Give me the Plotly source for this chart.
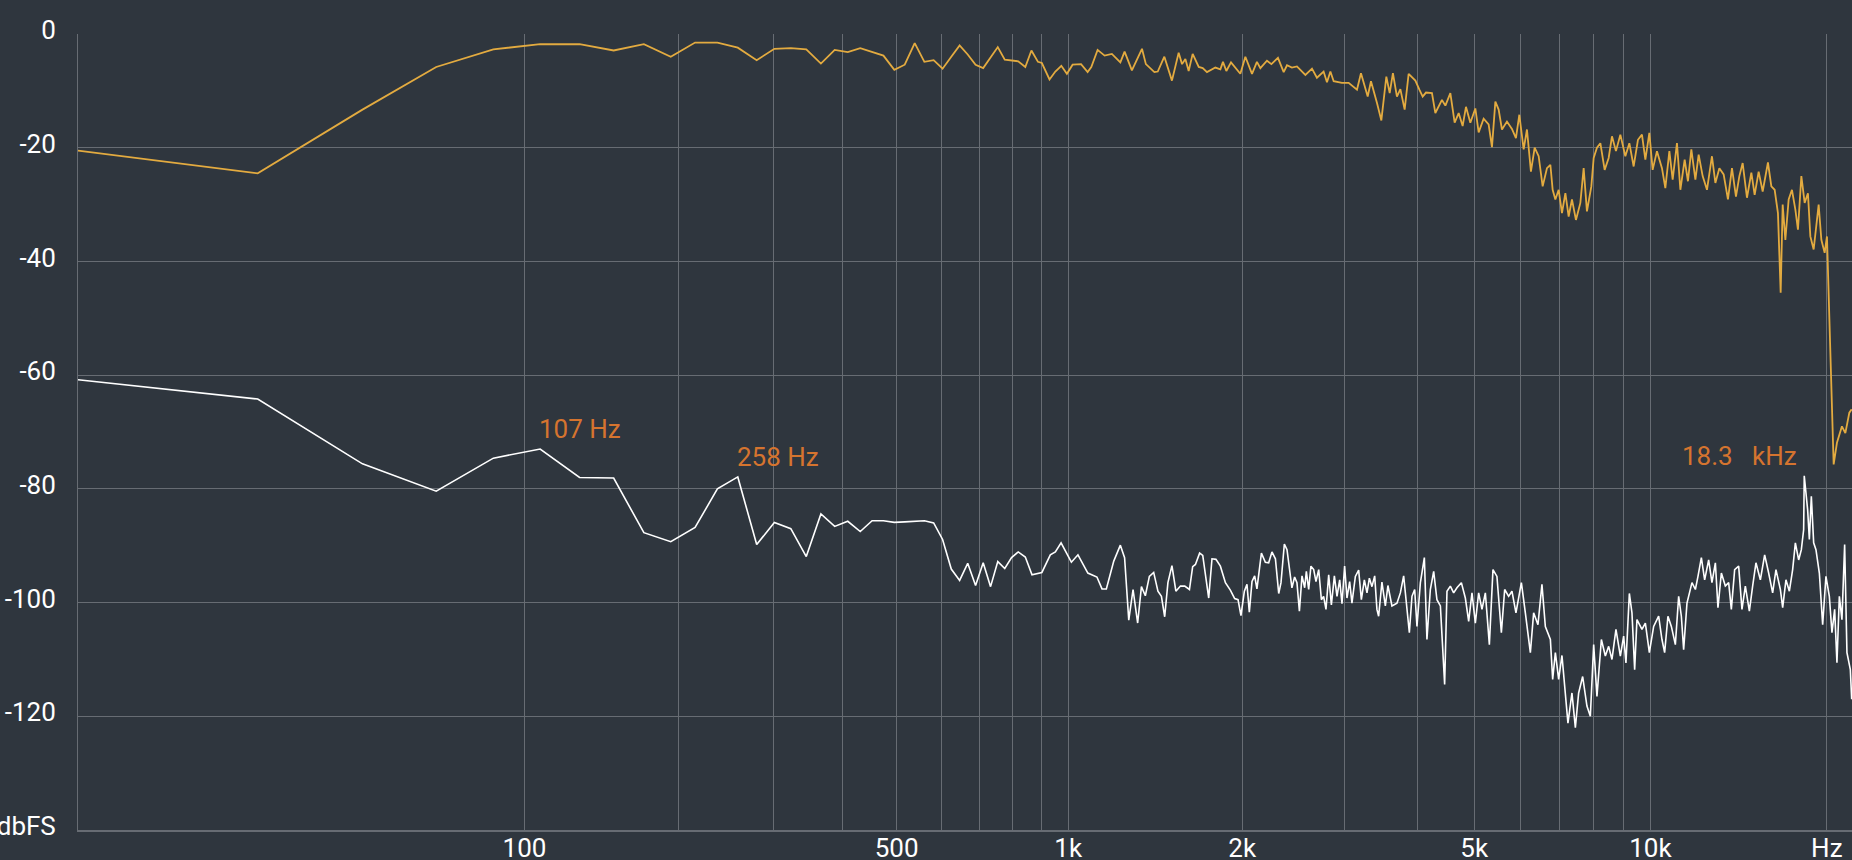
import numpy as np
import plotly.graph_objects as go

# ---------------- data ----------------
# Signal spectrum (orange): frequency in Hz, level in dBFS
SIGNAL_HZ = [
    0, 21.5, 43.1, 64.6, 86.1, 107.7, 129.2, 150.7, 172.3, 193.8, 215.3, 236.9, 258.4,
    279.9, 301.5, 323.0, 344.5, 366.1, 387.6, 409.1, 430.7, 452.2, 473.7, 495.3, 516.8,
    538.3, 559.9, 581.4, 602.9, 624.5, 646.0, 667.5, 689.1, 710.6, 732.1, 753.7, 775.2,
    796.7, 818.3,
    842, 863, 886, 900, 928, 950, 973, 995, 1018, 1053, 1081, 1097, 1125, 1157, 1191,
    1232, 1253, 1290, 1343, 1364, 1411, 1430, 1468, 1513, 1554, 1575, 1596, 1617, 1643,
    1683, 1710, 1739, 1798, 1834, 1853, 1878, 1913, 1946, 1985, 2025, 2079, 2120, 2149,
    2206, 2245, 2304, 2357, 2388, 2435, 2484, 2568, 2636, 2688, 2760, 2797, 2835, 2872,
    2968, 3047, 3149, 3199, 3285, 3328, 3407, 3467, 3536, 3583, 3629, 3687, 3737, 3801,
    3861, 3965, 4028, 4081, 4134, 4233, 4290, 4403, 4463, 4551, 4629, 4703, 4777, 4840,
    4924, 5022, 5088, 5189, 5292, 5362, 5434, 5505, 5577, 5688, 5801, 5893, 5972, 6074,
    6154, 6251, 6343, 6444, 6546, 6658, 6748, 6809, 6882, 6972, 7063, 7158, 7251, 7346,
    7462, 7593, 7692, 7792, 7928, 8001, 8105, 8214, 8354, 8487, 8598, 8734, 8886, 9062,
    9206, 9363, 9523, 9674, 9804, 9959, 10089, 10261, 10465, 10605, 10774, 10915, 11101,
    11250, 11442, 11590, 11746, 11934, 12089, 12281, 12490, 12737, 12909, 13113, 13336,
    13563, 13779, 13997, 14185, 14370, 14615, 14869, 15063, 15302, 15545, 15710, 15871,
    16084, 16295, 16507, 16684, 16816, 16994, 17216, 17440, 17675, 17856, 18096, 18332,
    18570, 18747, 18992, 19368, 19575, 19830, 20010, 20087, 20543, 20811, 21223, 21508,
    21848, 22050,
]
SIGNAL_DB = [
    -20.5, -24.5, -13.3, -5.8, -2.7, -1.8, -1.8, -2.9, -1.8, -4.0, -1.5, -1.5, -2.4,
    -4.6, -2.6, -2.5, -2.7, -5.2, -2.8, -3.2, -2.5, -3.1, -3.8, -6.3, -5.4,
    -1.6, -4.9, -4.6, -6.1, -4.0, -2.0, -3.6, -5.4, -6.0, -4.2, -2.3, -4.5,
    -4.6, -4.8,
    -5.8, -2.9, -4.9, -5.1, -8.0, -6.6, -5.6, -7.0, -5.4, -5.3, -6.7, -5.8, -2.8, -3.8, -3.5,
    -5.0, -3.1, -6.4, -2.6, -5.3, -6.7, -6.6, -4.0, -8.2, -3.3, -5.3, -4.4, -6.5, -3.5,
    -5.8, -6.0, -6.7, -5.9, -6.2, -4.9, -6.5, -5.0, -5.9, -7.0, -4.0, -7.0, -4.9, -6.0,
    -4.7, -5.3, -4.2, -6.7, -5.5, -5.9, -5.7, -7.2, -6.1, -7.7, -6.6, -8.5, -6.6, -8.3,
    -8.6, -8.6, -9.8, -6.9, -11.0, -8.3, -12.1, -15.2, -7.5, -10.4, -6.9, -11.0, -9.7, -13.3,
    -7.0, -8.2, -9.8, -11.0, -10.3, -10.4, -13.9, -11.6, -12.6, -10.4, -15.6, -13.9, -16.2, -12.8,
    -15.6, -13.1, -17.3, -14.9, -15.9, -19.9, -11.9, -13.3, -16.8, -15.4, -16.7, -18.3, -14.2, -20.3,
    -16.8, -24.2, -20.0, -21.5, -26.8, -23.6, -23.0, -27.4, -29.1, -27.4, -31.5, -28.0, -32.1, -29.1,
    -32.7, -29.7, -23.6, -31.2, -26.8, -21.8, -20.0, -19.2, -23.9, -21.8, -18.0, -20.6, -17.7, -21.5,
    -19.2, -23.3, -18.6, -17.7, -22.1, -17.4, -23.9, -20.6, -23.6, -27.1, -20.6, -25.6, -19.2,
    -27.4, -22.1, -25.9, -20.3, -25.6, -21.2, -25.0, -27.4, -21.5, -26.2, -23.6, -24.7,
    -29.1, -23.6, -28.6, -25.0, -22.7, -28.8, -24.4, -28.3, -24.2, -27.7, -25.0, -22.6,
    -26.8, -27.4, -31.5, -45.5, -30.0, -36.2, -29.1, -27.4, -30.9, -34.4, -25.0, -29.7,
    -28.0, -35.6, -37.9, -30.0, -36.2, -38.5, -35.6, -42.0, -75.7, -71.9, -69.0, -70.2,
    -66.6, -66.0,
]

# Noise + distortion residue (white): frequency in Hz, level in dBFS
NOISE_HZ = [
    0, 21.5, 43.1, 64.6, 86.1, 107.7, 129.2, 150.7, 172.3, 193.8, 215.3, 236.9, 258.4,
    279.9, 301.5, 323.0, 344.5, 366.1, 387.6, 409.1, 430.7, 452.2, 473.7, 495.3, 516.8,
    538.3, 559.9, 581.4, 602.9, 624.5, 646.0, 667.5, 689.1, 710.6, 732.1, 753.7, 775.2,
    796.7, 818.3,
    842, 865, 900, 931, 950, 972, 1013, 1040, 1082, 1122, 1145, 1165, 1200, 1232, 1253,
    1274, 1296, 1320, 1340, 1361, 1383, 1407, 1431, 1451, 1470, 1489, 1513, 1537, 1565,
    1592, 1622, 1643, 1661, 1689, 1710, 1751, 1774, 1802, 1834, 1871, 1908, 1941, 1967,
    1990, 2017, 2038, 2057, 2079, 2101, 2120, 2158, 2192, 2221, 2250, 2281, 2311, 2332,
    2363, 2388, 2435, 2461, 2484, 2508, 2534, 2561, 2578, 2602, 2625, 2654, 2678, 2707,
    2736, 2760, 2786, 2816, 2846, 2880, 2910, 2941, 2968, 2999, 3027, 3059, 3087, 3129,
    3170, 3204, 3242, 3276, 3307, 3341, 3377, 3407, 3430, 3475, 3522, 3558, 3615, 3687,
    3737, 3786, 3820, 3872, 3912, 3954, 3990, 4044, 4108, 4150, 4206, 4262, 4317, 4376,
    4450, 4491, 4551, 4611, 4671, 4753, 4828, 4892, 4956, 5022, 5088, 5155, 5224, 5307,
    5383, 5468, 5564, 5637, 5726, 5801, 5893, 6020, 6115, 6237, 6318, 6426, 6528, 6616,
    6748, 6809, 6882, 6972, 7063, 7138, 7231, 7346, 7445, 7542, 7662, 7792, 7897, 8001,
    8105, 8247, 8377, 8487, 8598, 8734, 8886, 9002, 9084, 9206, 9301, 9400, 9485, 9674,
    9804, 9959, 10129, 10330, 10465, 10576, 10714, 10858, 11031, 11175, 11294, 11396,
    11546, 11775, 11934, 12056, 12218, 12377, 12573, 12737, 12909, 13041, 13217, 13425,
    13601, 13745, 13925, 14146, 14331, 14523, 14753, 14945, 15141, 15405, 15667, 15915,
    16167, 16379, 16664, 16816, 17034, 17263, 17488, 17675, 17905, 18096, 18259, 18303,
    18549, 18674, 18820, 18992, 19164, 19421, 19675, 19930, 20198, 20406, 20624, 20811,
    21008, 21223, 21449, 21644, 21934, 22050,
]
NOISE_DB = [
    -60.8, -64.2, -75.6, -80.4, -74.6, -73.0, -78.0, -78.1, -87.7, -89.3, -86.8, -80.0, -77.9,
    -89.8, -85.9, -87.0, -91.9, -84.4, -86.6, -85.7, -87.5, -85.6, -85.6, -85.9, -85.8,
    -85.7, -85.6, -86.0, -88.9, -94.1, -96.1, -93.1, -97.0, -93.0, -97.2, -92.8, -94.0,
    -92.1, -91.1,
    -92.0, -95.1, -94.7, -91.6, -91.1, -89.5, -92.9, -91.6, -94.8, -95.5, -97.6, -97.6, -92.7, -89.9, -92.1,
    -103.1, -97.7, -103.6, -97.2, -98.8, -95.4, -94.7, -98.0, -98.9, -102.5, -96.5, -93.5, -98.0, -97.1,
    -97.1, -97.7, -93.7, -93.3, -91.3, -91.7, -99.2, -92.3, -92.4, -93.6, -96.5, -97.8, -99.3, -99.5,
    -102.3, -98.0, -96.8, -101.7, -96.3, -95.3, -97.6, -91.3, -92.9, -93.0, -91.1, -92.3, -98.4, -96.5,
    -89.7, -90.7, -97.4, -95.5, -96.5, -101.5, -95.3, -97.4, -94.5, -97.7, -93.6, -94.2, -96.3, -94.2,
    -99.5, -98.9, -101.2, -95.1, -100.4, -95.3, -98.9, -96.0, -100.2, -93.6, -99.2, -96.3, -100.1, -95.4,
    -94.3, -99.5, -96.0, -98.3, -95.7, -97.2, -95.3, -101.2, -102.4, -96.4, -100.6, -97.0, -100.6, -100.1,
    -98.3, -95.3, -98.9, -105.3, -98.9, -97.7, -104.2, -96.5, -92.1, -106.5, -97.7, -94.5, -99.5, -100.6,
    -114.4, -98.0, -97.1, -98.3, -97.4, -96.5, -99.2, -103.3, -98.3, -103.6, -98.3, -101.2, -98.3, -107.4,
    -94.2, -95.4, -105.3, -97.7, -98.9, -98.0, -101.8, -96.5, -101.8, -108.8, -101.8, -103.9, -96.8, -104.2,
    -106.5, -113.5, -108.8, -113.5, -109.3, -115.3, -121.2, -115.9, -122.0, -115.9, -113.0, -118.2, -120.0, -107.4,
    -116.5, -106.5, -109.4, -107.7, -110.0, -104.7, -109.4, -105.9, -110.6, -98.4, -101.8, -111.8, -103.0, -104.7,
    -103.6, -108.8, -104.2, -102.4, -106.5, -108.8, -102.4, -104.2, -107.4, -98.9, -102.4, -108.3,
    -100.1, -96.5, -97.7, -95.4, -92.1, -96.0, -92.5, -96.5, -93.0, -100.9, -94.8, -97.1,
    -96.5, -101.2, -94.2, -93.6, -101.2, -97.1, -101.5, -97.1, -93.0, -96.0, -91.6, -94.8,
    -98.3, -94.2, -97.7, -100.9, -96.0, -98.0, -94.2, -89.5, -92.5, -90.7, -87.2, -77.7,
    -83.7, -88.9, -81.3, -89.5, -90.7, -94.8, -103.9, -95.4, -98.9, -105.3, -101.2, -110.6,
    -98.9, -103.0, -89.8, -108.8, -111.8, -117.0,
]

# Peak markers
PEAK_HZ = [107.7, 258.4, 18303]
PEAK_LABELS = ["107 Hz", "258 Hz", "18.3\u00a0\u00a0 kHz"]

# Axis ticks
GRID_HZ = [100, 200, 300, 400, 500, 600, 700, 800, 900,
           1000, 2000, 3000, 4000, 5000, 6000, 7000, 8000, 9000, 10000, 20000]
X_LABELS = {100: "100", 500: "500", 1000: "1k", 2000: "2k", 5000: "5k",
            10000: "10k", 20000: "Hz"}
DB_TICKS = [0, -20, -40, -60, -80, -100, -120, -140]
DB_LABELS = ["0", "-20", "-40", "-60", "-80", "-100", "-120", "dbFS"]

# ---------------- styling ----------------
BG = "#2f363e"
GRID = "#676c73"
ORANGE = "#e3ab40"
LABEL_ORANGE = "#d5742f"
FONT = "Roboto"
W, H = 1852, 860
ML, MR, MT, MB = 78, 0, 34, 30
PX_PER_DECADE = 587.0
X_OFFSET = 21.0   # the analyser's frequency axis is log(f + 21 Hz)

x_lo = np.log10(X_OFFSET)
x_hi = x_lo + (W - ML - MR) / PX_PER_DECADE

fig = go.Figure()
fig.add_trace(go.Scatter(
    x=np.array(SIGNAL_HZ) + X_OFFSET, y=SIGNAL_DB, mode="lines",
    line=dict(color=ORANGE, width=1.8), hoverinfo="skip", showlegend=False))
fig.add_trace(go.Scatter(
    x=np.array(NOISE_HZ) + X_OFFSET, y=NOISE_DB, mode="lines",
    line=dict(color="#ffffff", width=1.6), hoverinfo="skip", showlegend=False))

for hz, label in zip(PEAK_HZ, PEAK_LABELS):
    db = NOISE_DB[NOISE_HZ.index(hz)]
    right = hz > 10000
    fig.add_annotation(
        x=np.log10(hz + X_OFFSET), y=db, xref="x", yref="y", text=label,
        showarrow=False, xanchor="right" if right else "left", yanchor="bottom",
        xshift=-5 if right else -3, yshift=3,
        font=dict(family=FONT, size=26, color=LABEL_ORANGE))

fig.update_layout(
    width=W, height=H,
    margin=dict(l=ML, r=MR, t=MT, b=MB, autoexpand=False),
    paper_bgcolor=BG, plot_bgcolor=BG,
    font=dict(family=FONT, color="#ffffff", size=26),
    xaxis=dict(
        type="log", range=[x_lo, x_hi],
        tickmode="array",
        tickvals=[h + X_OFFSET for h in GRID_HZ],
        ticktext=[X_LABELS.get(h, "") for h in GRID_HZ],
        showgrid=True, gridcolor=GRID, gridwidth=1,
        showline=True, linecolor=GRID, linewidth=2,
        zeroline=False, ticks="", ticklabelstandoff=-6,
        tickfont=dict(family=FONT, size=26, color="#ffffff"),
    ),
    yaxis=dict(
        range=[-140, 0], tickmode="array", tickvals=DB_TICKS, ticktext=DB_LABELS,
        showgrid=True, gridcolor=GRID, gridwidth=1,
        showline=True, linecolor=GRID, linewidth=1,
        zeroline=False, ticks="", ticklabelstandoff=16, ticklabelshift=-4,
        tickfont=dict(family=FONT, size=26, color="#ffffff"),
    ),
)

# the page's default 8px body margin would push the figure off the window
PAGE_CSS = ("document.body.style.margin='0';"
            "document.body.style.overflow='hidden';"
            "document.body.style.background='" + BG + "';")

fig.write_html("out.html", post_script=PAGE_CSS,
               config={"displayModeBar": False, "staticPlot": True})
